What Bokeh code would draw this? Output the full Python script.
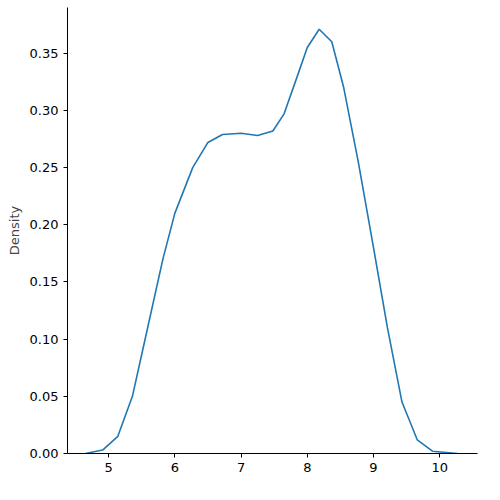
from bokeh.plotting import figure
from bokeh.models import Range1d, Label, CustomJSTickFormatter
from bokeh.embed import file_html
from bokeh.resources import INLINE

# KDE curve
wave_period = [4.65, 4.91, 5.14, 5.36, 5.59, 5.82, 6.0, 6.27, 6.5, 6.72, 7.0, 7.25,
               7.48, 7.65, 7.85, 8.0, 8.18, 8.37, 8.55, 8.77, 9.0, 9.21, 9.43, 9.66,
               9.89, 10.27]
density = [0.0, 0.003, 0.015, 0.05, 0.11, 0.17, 0.21, 0.25, 0.272, 0.279, 0.28, 0.278,
           0.282, 0.297, 0.33, 0.355, 0.371, 0.36, 0.32, 0.255, 0.18, 0.11, 0.045, 0.012,
           0.002, 0.0]

p = figure(width=492, height=492, output_backend="svg", toolbar_location=None,
           x_range=Range1d(4.38, 10.57), y_range=Range1d(0, 0.39),
           min_border_left=67, min_border_right=15, min_border_top=7, min_border_bottom=39)

p.line(wave_period, density, line_color="#1f77b4", line_width=1.6)

p.add_layout(Label(x=37, y=476, x_units="screen", y_units="screen",
                   text="Distribution of Mean Wave Period values at mumbai port",
                   text_font="DejaVu Sans", text_font_size="15px", text_color="black"))

p.xaxis.ticker = [5, 6, 7, 8, 9, 10]
p.yaxis.ticker = [0.0, 0.05, 0.10, 0.15, 0.20, 0.25, 0.30, 0.35]
p.yaxis.formatter = CustomJSTickFormatter(code="return tick.toFixed(2);")
p.yaxis.axis_label = "Density"
for ax in (p.xaxis, p.yaxis):
    ax.major_label_text_font = "DejaVu Sans"
    ax.major_label_text_font_size = "13px"
    ax.major_label_text_color = "black"
    ax.axis_line_color = "black"
    ax.major_tick_line_color = "black"
    ax.minor_tick_line_color = None
    ax.major_tick_out = 4
    ax.major_tick_in = 0
p.yaxis.axis_label_text_font = "DejaVu Sans"
p.yaxis.axis_label_text_font_size = "13px"
p.yaxis.axis_label_text_font_style = "normal"
p.grid.grid_line_color = None
p.outline_line_color = None

open("out.html", "w").write(file_html(p, INLINE))
